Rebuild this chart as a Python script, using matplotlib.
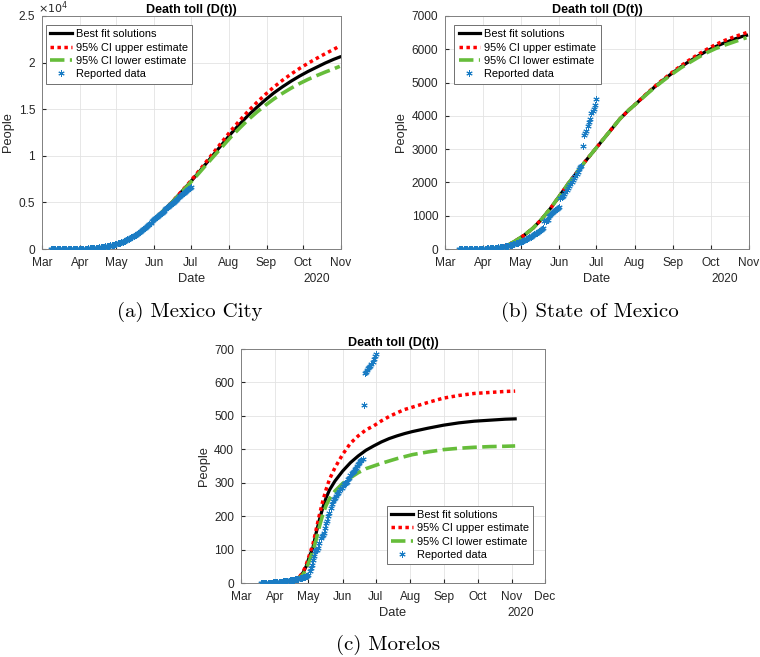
import matplotlib.pyplot as plt
import matplotlib.dates as mdates
import pandas as pd

plt.rcParams['font.family'] = ['Liberation Sans', 'DejaVu Sans']

# ---------------- legend texts ----------------
labels = ['Best fit solutions', '95% CI upper estimate', '95% CI lower estimate', 'Reported data']

# ---------------- (a) Mexico City ----------------
cdmx_start = '2020-03-08'
cdmx_data = [0, 0, 0, 0, 0, 0, 0, 0, 0, 0, 0, 1, 1, 2, 2, 3, 4, 5, 6, 8, 10, 12, 15, 18,
             21, 25, 29, 34, 40, 46, 52, 60, 68, 77, 87, 98, 110, 123, 137, 152, 168, 186, 205, 225,
             247, 270, 295, 322, 350, 380, 412, 446, 482, 520,
             560, 602, 646, 693, 742, 794, 848, 905, 965, 1028, 1094, 1163, 1235, 1310, 1388, 1470,
             1555, 1643, 1735, 1830, 1928, 2030, 2135, 2243, 2355, 2470, 2588, 2710, 2835, 2963, 3090,
             3180, 3290, 3420, 3530, 3650, 3760, 3890, 4000, 4120, 4240, 4350, 4480, 4590, 4710, 4830,
             4940, 5060, 5180, 5290, 5400, 5530, 5640, 5760, 5870, 5990, 6100, 6220, 6330, 6450, 6560,
             6650]
cdmx_fit_dates = ['2020-06-01', '2020-06-08', '2020-06-15', '2020-06-22', '2020-06-29', '2020-07-06',
                  '2020-07-13', '2020-07-20', '2020-07-27', '2020-08-03', '2020-08-10', '2020-08-17',
                  '2020-08-24', '2020-08-31', '2020-09-07', '2020-09-14', '2020-09-21', '2020-09-28',
                  '2020-10-05', '2020-10-12', '2020-10-19', '2020-10-26', '2020-10-31']
cdmx_best = [3200, 4050, 4950, 5950, 6950, 8000, 9100, 10200, 11300, 12400, 13400, 14350,
             15200, 16000, 16750, 17400, 18000, 18550, 19050, 19500, 19950, 20350, 20600]
cdmx_upper = [3200, 4050, 4970, 5990, 7020, 8120, 9270, 10420, 11580, 12730, 13790, 14800,
              15720, 16580, 17380, 18100, 18760, 19370, 19930, 20450, 20950, 21420, 21780]
cdmx_lower = [3200, 4040, 4930, 5910, 6890, 7900, 8950, 9990, 11020, 12050, 12980, 13880,
              14680, 15420, 16100, 16700, 17250, 17750, 18200, 18600, 18980, 19330, 19600]

# ---------------- (b) State of Mexico ----------------
edomex_start = '2020-03-12'
edomex_data = [0, 0, 0, 0, 0, 0, 0, 0, 1, 1, 2, 2, 3, 3, 4, 5, 6, 7, 8, 10,
               10, 12, 14, 16, 18, 20, 23, 26, 29, 33, 37, 41, 46, 51, 57, 63, 70, 77, 85, 93,
               102, 111, 121, 131, 142, 154, 167, 180, 194, 208,
               222, 237, 253, 270, 288, 307, 327, 348, 370, 393, 417, 442, 468, 495, 520, 545,
               570, 595, 620, 830, 845, 860, 875, 990, 1030, 1070, 1110, 1150, 1180, 1210, 1240,
               1270, 1520, 1560, 1600, 1640, 1700, 1780, 1840, 1900, 1960, 2020, 2080, 2140, 2200,
               2260, 2320, 2400, 2460, 2500, 3100, 3420, 3480, 3540, 3700, 3820, 3920, 4080, 4150,
               4200, 4320,
               4500]
edomex_fit_dates = ['2020-04-06', '2020-04-13', '2020-04-20', '2020-04-27', '2020-05-04', '2020-05-11',
                    '2020-05-18', '2020-05-25', '2020-06-01', '2020-06-08', '2020-06-15', '2020-06-22',
                    '2020-06-29', '2020-07-06', '2020-07-13', '2020-07-20', '2020-07-27', '2020-08-03',
                    '2020-08-10', '2020-08-17', '2020-08-24', '2020-08-31', '2020-09-07', '2020-09-14',
                    '2020-09-21', '2020-09-28', '2020-10-05', '2020-10-12', '2020-10-19', '2020-10-26',
                    '2020-10-30']
edomex_best = [0, 30, 100, 250, 420, 630, 900, 1220, 1580, 1950, 2290, 2630,
               2950, 3270, 3590, 3910, 4170, 4400, 4640, 4870, 5080, 5280, 5470, 5640,
               5800, 5950, 6080, 6190, 6290, 6380, 6420]
edomex_upper = [0, 30, 100, 250, 420, 630, 900, 1220, 1580, 1950, 2290, 2630,
                2950, 3270, 3590, 3910, 4170, 4405, 4650, 4885, 5100, 5305, 5500, 5680,
                5845, 6000, 6140, 6260, 6360, 6450, 6500]
edomex_lower = [0, 30, 100, 250, 420, 630, 900, 1220, 1580, 1950, 2290, 2630,
                2950, 3270, 3590, 3910, 4170, 4395, 4630, 4855, 5060, 5255, 5440, 5600,
                5755, 5900, 6020, 6120, 6210, 6300, 6350]

# ---------------- (c) Morelos ----------------
morelos_start = '2020-03-19'
morelos_data = [0, 0, 0, 0, 0, 0, 0, 1, 1, 1, 1, 2, 2,
                2, 2, 3, 3, 3, 4, 4, 5, 5, 6, 6, 7, 7, 8, 8, 9, 9, 10, 11, 12, 12, 13, 14, 15, 16,
                17, 18, 19, 20, 22,
                25, 35, 45, 55, 70, 80, 95, 100, 100, 105, 120, 135, 140, 145, 150, 165, 180, 185,
                200, 210, 225, 235, 245, 250, 255, 260, 265, 268, 275, 280, 285,
                290, 295, 298, 300, 303, 310, 315, 322, 330, 333, 336, 340, 345, 350, 355, 360, 365,
                368, 372, 533, 628, 632, 638, 642, 646, 650, 656, 662, 670, 678,
                685]
morelos_fit_dates = ['2020-04-18', '2020-04-22', '2020-04-26', '2020-04-29', '2020-05-02', '2020-05-05',
                     '2020-05-08', '2020-05-11', '2020-05-14', '2020-05-17', '2020-05-20', '2020-05-25',
                     '2020-06-01', '2020-06-08', '2020-06-15', '2020-06-22', '2020-06-29', '2020-07-06',
                     '2020-07-13', '2020-07-20', '2020-07-27', '2020-08-03', '2020-08-17', '2020-08-31',
                     '2020-09-14', '2020-09-28', '2020-10-12', '2020-10-26', '2020-11-04']
morelos_best = [8, 15, 30, 50, 80, 105, 150, 190, 225, 255, 278, 305, 335, 360, 380, 397, 410, 422,
                432, 440, 447, 453, 463, 472, 479, 484, 487, 490, 491]
morelos_upper = [8, 15, 32, 55, 85, 115, 160, 205, 245, 280, 310, 345, 385, 418, 440, 458, 470, 485,
                 498, 509, 519, 526, 540, 553, 561, 567, 570, 573, 574]
morelos_lower = [8, 13, 25, 42, 68, 95, 130, 170, 205, 232, 252, 275, 298, 315, 330, 342, 350, 358,
                 365, 372, 378, 384, 392, 399, 403, 406, 408, 409, 410]

black = '#000000'
red = '#FF0000'
green = '#66BD3A'
blue = '#1A7CC4'
txt = '#262626'

fig = plt.figure(figsize=(7.6, 6.57), dpi=100)
W, H = 760, 657


def make_ax(x0, y0, x1, y1):
    return fig.add_axes([x0 / W, 1 - y1 / H, (x1 - x0) / W, (y1 - y0) / H])


def draw(ax, start, data, fit_dates, best, upper, lower, xend, ymax, ystep, leg_loc, leg_anchor):
    fd = pd.to_datetime(fit_dates)
    ax.plot(fd, best, color=black, lw=2.3, label=labels[0], zorder=3)
    ax.plot(fd, upper, color=red, lw=2.5, ls=(0, (1, 1)), label=labels[1], zorder=4)
    ax.plot(fd, lower, color=green, lw=2.6, ls=(0, (4, 1.5)), label=labels[2], zorder=5)
    dd = pd.date_range(start, periods=len(data), freq='D')
    ax.plot(dd, data, ls='none', marker=(6, 2, 0), ms=4.5, mew=0.7, color=blue,
            label=labels[3], zorder=6)
    ax.set_xlim(pd.Timestamp('2020-03-01'), pd.Timestamp(xend))
    ax.set_ylim(0, ymax)
    ax.set_yticks([i * ystep for i in range(int(round(ymax / ystep)) + 1)])
    ax.xaxis.set_major_locator(mdates.MonthLocator())
    ax.xaxis.set_major_formatter(mdates.DateFormatter('%b'))
    ax.tick_params(direction='in', length=3, labelsize=8.6, colors=txt)
    ax.tick_params(axis='x', pad=5.5)
    ax.tick_params(axis='y', pad=5)
    for s in ax.spines.values():
        s.set_color('#808080')
        s.set_linewidth(0.7)
    ax.grid(True, color='#E3E3E3', lw=0.6)
    ax.set_axisbelow(True)
    ax.set_xlabel('Date', fontsize=9.3, color=txt, labelpad=3)
    ax.set_ylabel('People', fontsize=9.3, color=txt, labelpad=3)
    ax.set_title('Death toll (D(t))', fontsize=9, fontweight='bold', pad=2)
    ax.text(0.92, -0.13, '2020', transform=ax.transAxes, ha='center', va='center',
            fontsize=8.6, color=txt)
    leg = ax.legend(loc=leg_loc, bbox_to_anchor=leg_anchor, fontsize=7.9, fancybox=False,
                    edgecolor='#707070', framealpha=1, handlelength=2.0, labelspacing=0.3,
                    borderpad=0.4, handletextpad=0.35, borderaxespad=0)
    leg.get_frame().set_linewidth(0.7)


ax_a = make_ax(42, 16, 341, 249)
draw(ax_a, cdmx_start, cdmx_data, cdmx_fit_dates, cdmx_best, cdmx_upper, cdmx_lower,
     '2020-11-01', 25000, 5000, 'upper left', (0.013, 0.962))
ax_a.set_yticklabels(['0', '0.5', '1', '1.5', '2', '2.5'])
ax_a.text(-0.015, 1.013, r'$\times10^{4}$', transform=ax_a.transAxes, ha='left', va='baseline',
          fontsize=8, color=txt)

ax_b = make_ax(445, 16, 749, 249)
draw(ax_b, edomex_start, edomex_data, edomex_fit_dates, edomex_best, edomex_upper, edomex_lower,
     '2020-11-01', 7000, 1000, 'upper left', (0.03, 0.962))

ax_c = make_ax(241, 349, 545, 583)
draw(ax_c, morelos_start, morelos_data, morelos_fit_dates, morelos_best, morelos_upper, morelos_lower,
     '2020-12-01', 700, 100, 'lower right', (0.962, 0.08))

cap = dict(fontsize=15, family='cmr10', ha='center', va='center')
fig.text(190 / W, 1 - 312 / H, '(a) Mexico City', **cap)
fig.text(590 / W, 1 - 312 / H, '(b) State of Mexico', **cap)
fig.text(388 / W, 1 - 645 / H, '(c) Morelos', **cap)

fig.savefig('out.png', dpi=100)
